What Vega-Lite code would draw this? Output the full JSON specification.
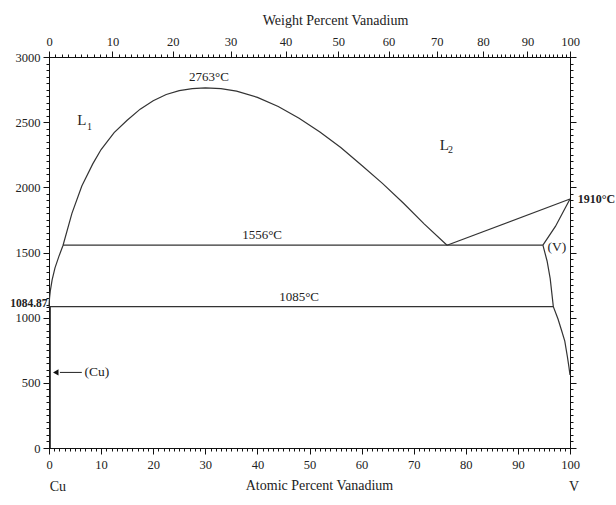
{
  "$schema": "https://vega.github.io/schema/vega-lite/v6.json",
  "width": 521,
  "height": 391,
  "autosize": {"type": "none"},
  "padding": {"left": 49, "top": 57, "right": 46, "bottom": 57},
  "background": "white",
  "config": {
    "view": {"stroke": "#111", "strokeWidth": 1},
    "font": "Liberation Serif",
    "text": {"font": "Liberation Serif", "color": "#222"},
    "axis": {
      "grid": false,
      "domainColor": "#111",
      "tickColor": "#111",
      "labelColor": "#222",
      "titleColor": "#222",
      "labelFont": "Liberation Serif",
      "titleFont": "Liberation Serif",
      "labelFontSize": 12.5,
      "titleFontSize": 14,
      "titleFontWeight": "normal",
      "labelOverlap": false,
      "labelFlush": false,
      "labelBound": false
    }
  },
  "datasets": {
    "boundaries": [
      {"seg": "miscibility gap", "ord": 0, "at": 0, "temp": 1084.87},
      {"seg": "miscibility gap", "ord": 1, "at": 0.1, "temp": 1150},
      {"seg": "miscibility gap", "ord": 2, "at": 0.25, "temp": 1206},
      {"seg": "miscibility gap", "ord": 3, "at": 0.6, "temp": 1290},
      {"seg": "miscibility gap", "ord": 4, "at": 1.15, "temp": 1382},
      {"seg": "miscibility gap", "ord": 5, "at": 1.9, "temp": 1470},
      {"seg": "miscibility gap", "ord": 6, "at": 2.7, "temp": 1556},
      {"seg": "miscibility gap", "ord": 7, "at": 4.4, "temp": 1800},
      {"seg": "miscibility gap", "ord": 8, "at": 6.3, "temp": 2010},
      {"seg": "miscibility gap", "ord": 9, "at": 8.4, "temp": 2180},
      {"seg": "miscibility gap", "ord": 10, "at": 10, "temp": 2290},
      {"seg": "miscibility gap", "ord": 11, "at": 12.5, "temp": 2420},
      {"seg": "miscibility gap", "ord": 12, "at": 15, "temp": 2515},
      {"seg": "miscibility gap", "ord": 13, "at": 17.5, "temp": 2600},
      {"seg": "miscibility gap", "ord": 14, "at": 20, "temp": 2665},
      {"seg": "miscibility gap", "ord": 15, "at": 22.5, "temp": 2712},
      {"seg": "miscibility gap", "ord": 16, "at": 25, "temp": 2742},
      {"seg": "miscibility gap", "ord": 17, "at": 27.5, "temp": 2758},
      {"seg": "miscibility gap", "ord": 18, "at": 30, "temp": 2763},
      {"seg": "miscibility gap", "ord": 19, "at": 33, "temp": 2757},
      {"seg": "miscibility gap", "ord": 20, "at": 36, "temp": 2738},
      {"seg": "miscibility gap", "ord": 21, "at": 40, "temp": 2690},
      {"seg": "miscibility gap", "ord": 22, "at": 44, "temp": 2620},
      {"seg": "miscibility gap", "ord": 23, "at": 48, "temp": 2530},
      {"seg": "miscibility gap", "ord": 24, "at": 52, "temp": 2425},
      {"seg": "miscibility gap", "ord": 25, "at": 56, "temp": 2305},
      {"seg": "miscibility gap", "ord": 26, "at": 60, "temp": 2170},
      {"seg": "miscibility gap", "ord": 27, "at": 64, "temp": 2030},
      {"seg": "miscibility gap", "ord": 28, "at": 68, "temp": 1880},
      {"seg": "miscibility gap", "ord": 29, "at": 72, "temp": 1720},
      {"seg": "miscibility gap", "ord": 30, "at": 76.4, "temp": 1556},
      {"seg": "monotectic", "ord": 0, "at": 2.7, "temp": 1556},
      {"seg": "monotectic", "ord": 1, "at": 94.8, "temp": 1556},
      {"seg": "eutectic", "ord": 0, "at": 0, "temp": 1084.87},
      {"seg": "eutectic", "ord": 1, "at": 96.8, "temp": 1084.87},
      {"seg": "L2 liquidus", "ord": 0, "at": 76.4, "temp": 1556},
      {"seg": "L2 liquidus", "ord": 1, "at": 100, "temp": 1910},
      {"seg": "V solidus", "ord": 0, "at": 100, "temp": 1910},
      {"seg": "V solidus", "ord": 1, "at": 97.2, "temp": 1700},
      {"seg": "V solidus", "ord": 2, "at": 94.8, "temp": 1556},
      {"seg": "V solvus", "ord": 0, "at": 94.8, "temp": 1556},
      {"seg": "V solvus", "ord": 1, "at": 95.6, "temp": 1435},
      {"seg": "V solvus", "ord": 2, "at": 96.2, "temp": 1300},
      {"seg": "V solvus", "ord": 3, "at": 96.8, "temp": 1085},
      {"seg": "V solvus", "ord": 4, "at": 97.7, "temp": 990},
      {"seg": "V solvus", "ord": 5, "at": 98.4, "temp": 900},
      {"seg": "V solvus", "ord": 6, "at": 99.0, "temp": 820},
      {"seg": "V solvus", "ord": 7, "at": 99.5, "temp": 700},
      {"seg": "V solvus", "ord": 8, "at": 99.8, "temp": 620},
      {"seg": "V solvus", "ord": 9, "at": 100, "temp": 560},
      {"seg": "Cu solvus", "ord": 0, "at": 0.25, "temp": 0},
      {"seg": "Cu solvus", "ord": 1, "at": 0.25, "temp": 1084.87}
    ],
    "notes": [
      {"txt": "2763°C", "at": 30.7, "temp": 2790},
      {"txt": "1556°C", "at": 40.9, "temp": 1580},
      {"txt": "1085°C", "at": 48.0, "temp": 1105}
    ],
    "phases": [
      {"txt": "(V)", "at": 97.5, "temp": 1542},
      {"txt": "(Cu)", "at": 9.2, "temp": 580}
    ],
    "liquids": [
      {"txt": "L", "at": 5.4, "temp": 2481, "size": 15},
      {"txt": "1", "at": 7.3, "temp": 2443, "size": 10},
      {"txt": "L", "at": 75.0, "temp": 2290, "size": 15},
      {"txt": "2", "at": 76.6, "temp": 2267, "size": 10}
    ],
    "melting": [
      {"txt": "1910°C", "at": 101.5, "temp": 1910}
    ],
    "elements": [
      {"txt": "Cu", "at": 1.7, "temp": -298},
      {"txt": "V", "at": 100.8, "temp": -298}
    ],
    "arrow": [
      {"at": 2.1, "at2": 6.3, "temp": 580}
    ],
    "arrowhead": [
      {"at": 1.3, "temp": 580}
    ]
  },
  "layer": [
    {
      "data": {"name": "boundaries"},
      "mark": {"type": "line", "color": "#333", "strokeWidth": 1.2},
      "encoding": {
        "x": {
          "field": "at",
          "type": "quantitative",
          "scale": {"domain": [0, 100], "nice": false, "zero": false},
          "axis": {
            "orient": "bottom",
            "values": [0,1,2,3,4,5,6,7,8,9,10,11,12,13,14,15,16,17,18,19,20,21,22,23,24,25,26,27,28,29,30,31,32,33,34,35,36,37,38,39,40,41,42,43,44,45,46,47,48,49,50,51,52,53,54,55,56,57,58,59,60,61,62,63,64,65,66,67,68,69,70,71,72,73,74,75,76,77,78,79,80,81,82,83,84,85,86,87,88,89,90,91,92,93,94,95,96,97,98,99,100],
            "tickSize": {"condition": {"test": "datum.value % 10 === 0", "value": 6}, "value": 3},
            "labelExpr": "datum.value % 10 === 0 ? '' + datum.value : ''",
            "labelPadding": 4,
            "title": "Atomic Percent Vanadium",
            "titlePadding": 8,
            "titleX": 270
          }
        },
        "y": {
          "field": "temp",
          "type": "quantitative",
          "scale": {"domain": [0, 3000], "nice": false, "zero": false},
          "axis": {
            "orient": "left",
            "values": [0,50,100,150,200,250,300,350,400,450,500,550,600,650,700,750,800,850,900,950,1000,1050,1084.87,1100,1150,1200,1250,1300,1350,1400,1450,1500,1550,1600,1650,1700,1750,1800,1850,1900,1950,2000,2050,2100,2150,2200,2250,2300,2350,2400,2450,2500,2550,2600,2650,2700,2750,2800,2850,2900,2950,3000],
            "tickSize": {"condition": {"test": "datum.value % 500 === 0", "value": 6}, "value": 3},
            "labelExpr": "datum.value === 1084.87 ? '1084.87' : (datum.value % 500 === 0 ? '' + datum.value : '')",
            "labelFontWeight": {"condition": {"test": "datum.value === 1084.87", "value": "bold"}, "value": "normal"},
            "labelFontSize": {"condition": {"test": "datum.value === 1084.87", "value": 11.5}, "value": 12.5},
            "labelOffset": {"condition": {"test": "datum.value === 1084.87", "value": -3}, "value": 0},
            "labelPadding": {"condition": {"test": "datum.value === 1084.87", "value": -1}, "value": 3},
            "title": null
          }
        },
        "detail": {"field": "seg", "type": "nominal"},
        "order": {"field": "ord", "type": "quantitative"}
      }
    },
    {
      "data": {"name": "notes"},
      "mark": {"type": "text", "fontSize": 13, "align": "center", "baseline": "bottom", "color": "#222"},
      "encoding": {
        "x": {
          "field": "at",
          "type": "quantitative",
          "scale": {"domain": [0, 100], "nice": false, "zero": false},
          "axis": {
            "orient": "top",
            "values": [0,1.2443,2.4826,3.7146,4.9408,6.1609,7.375,8.5833,9.7857,10.9822,12.173,13.358,14.5374,15.7111,16.8792,18.0417,19.1988,20.3503,21.4962,22.6368,23.772,24.902,26.0268,27.1461,28.2601,29.3689,30.4728,31.5714,32.6649,33.7534,34.837,35.9153,36.9889,38.0575,39.1213,40.1801,41.2344,42.2837,43.3283,44.3682,45.403,46.4338,47.4598,48.4813,49.4979,50.5101,51.5177,52.5208,53.5199,54.5143,55.504,56.4906,57.472,58.4489,59.4219,60.3902,61.3546,62.3147,63.2706,64.2226,65.171,66.1137,67.054,67.9901,68.9212,69.8489,70.7727,71.6928,72.6083,73.5205,74.429,75.3335,76.2338,77.1306,78.0238,78.913,79.7986,80.6808,81.5589,82.4339,83.305,84.1726,85.0361,85.8961,86.7532,87.6067,88.4561,89.3027,90.1456,90.985,91.821,92.654,93.4835,94.3095,95.1321,95.9516,96.7677,97.5806,98.3895,99.1969,100],
            "tickSize": {"condition": {"test": "round(100 * datum.value / (124.742 - 0.24742 * datum.value)) % 10 === 0", "value": 6}, "value": 3},
            "labelExpr": "round(100 * datum.value / (124.742 - 0.24742 * datum.value)) % 10 === 0 ? '' + round(100 * datum.value / (124.742 - 0.24742 * datum.value)) : ''",
            "labelPadding": 3,
            "title": "Weight Percent Vanadium",
            "titlePadding": 8,
            "titleX": 286
          }
        },
        "y": {
          "field": "temp",
          "type": "quantitative",
          "scale": {"domain": [0, 3000], "nice": false, "zero": false},
          "axis": {
            "orient": "right",
            "values": [0,50,100,150,200,250,300,350,400,450,500,550,600,650,700,750,800,850,900,950,1000,1050,1100,1150,1200,1250,1300,1350,1400,1450,1500,1550,1600,1650,1700,1750,1800,1850,1900,1950,2000,2050,2100,2150,2200,2250,2300,2350,2400,2450,2500,2550,2600,2650,2700,2750,2800,2850,2900,2950,3000],
            "tickSize": {"condition": {"test": "datum.value % 500 === 0", "value": 6}, "value": 3},
            "labels": false,
            "title": null
          }
        },
        "text": {"field": "txt", "type": "nominal"}
      }
    },
    {
      "data": {"name": "phases"},
      "mark": {"type": "text", "fontSize": 13.5, "align": "center", "baseline": "middle", "color": "#222"},
      "encoding": {
        "x": {"field": "at", "type": "quantitative", "scale": {"domain": [0, 100], "nice": false, "zero": false}, "axis": null},
        "y": {"field": "temp", "type": "quantitative", "scale": {"domain": [0, 3000], "nice": false, "zero": false}, "axis": null},
        "text": {"field": "txt", "type": "nominal"}
      }
    },
    {
      "data": {"name": "liquids"},
      "mark": {"type": "text", "align": "left", "baseline": "alphabetic", "color": "#222"},
      "encoding": {
        "x": {"field": "at", "type": "quantitative", "scale": {"domain": [0, 100], "nice": false, "zero": false}, "axis": null},
        "y": {"field": "temp", "type": "quantitative", "scale": {"domain": [0, 3000], "nice": false, "zero": false}, "axis": null},
        "size": {"field": "size", "type": "quantitative", "scale": null},
        "text": {"field": "txt", "type": "nominal"}
      }
    },
    {
      "data": {"name": "melting"},
      "mark": {"type": "text", "fontSize": 12, "fontWeight": "bold", "align": "left", "baseline": "middle", "color": "#222"},
      "encoding": {
        "x": {"field": "at", "type": "quantitative", "scale": {"domain": [0, 100], "nice": false, "zero": false}, "axis": null},
        "y": {"field": "temp", "type": "quantitative", "scale": {"domain": [0, 3000], "nice": false, "zero": false}, "axis": null},
        "text": {"field": "txt", "type": "nominal"}
      }
    },
    {
      "data": {"name": "elements"},
      "mark": {"type": "text", "fontSize": 14, "align": "center", "baseline": "middle", "color": "#222"},
      "encoding": {
        "x": {"field": "at", "type": "quantitative", "scale": {"domain": [0, 100], "nice": false, "zero": false}, "axis": null},
        "y": {"field": "temp", "type": "quantitative", "scale": {"domain": [0, 3000], "nice": false, "zero": false}, "axis": null},
        "text": {"field": "txt", "type": "nominal"}
      }
    },
    {
      "data": {"name": "arrow"},
      "mark": {"type": "rule", "color": "#222", "strokeWidth": 1},
      "encoding": {
        "x": {"field": "at", "type": "quantitative", "scale": {"domain": [0, 100], "nice": false, "zero": false}, "axis": null},
        "x2": {"field": "at2"},
        "y": {"field": "temp", "type": "quantitative", "scale": {"domain": [0, 3000], "nice": false, "zero": false}, "axis": null}
      }
    },
    {
      "data": {"name": "arrowhead"},
      "mark": {"type": "point", "shape": "triangle-left", "filled": true, "color": "#111", "size": 40, "opacity": 1},
      "encoding": {
        "x": {"field": "at", "type": "quantitative", "scale": {"domain": [0, 100], "nice": false, "zero": false}, "axis": null},
        "y": {"field": "temp", "type": "quantitative", "scale": {"domain": [0, 3000], "nice": false, "zero": false}, "axis": null}
      }
    }
  ],
  "resolve": {"axis": {"x": "independent", "y": "independent"}}
}
